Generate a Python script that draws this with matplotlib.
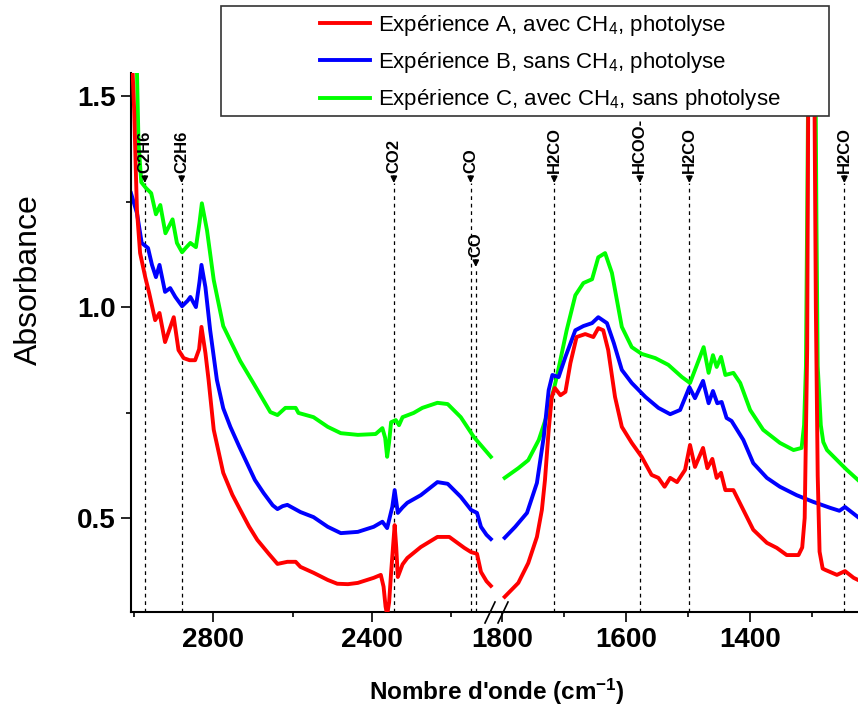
import matplotlib
matplotlib.use('Agg')
import matplotlib.pyplot as plt
from matplotlib.lines import Line2D
from matplotlib.patches import Rectangle
from matplotlib.ticker import FixedLocator, MultipleLocator

plt.rcParams['font.family'] = ['Liberation Sans', 'DejaVu Sans']
plt.rcParams['mathtext.default'] = 'regular'

labels = ['Expérience A, avec CH$_4$, photolyse',
          'Expérience B, sans CH$_4$, photolyse',
          'Expérience C, avec CH$_4$, sans photolyse']
colors = ['#ff0000', '#0000ff', '#00ff00']

# --- high wavenumber part (3010 - 2090 cm-1)
wn_A_hi = [3008, 3004, 3000, 2996, 2993, 2985, 2972, 2962, 2947, 2936, 2922, 2900, 2888,
           2875, 2860, 2846, 2836, 2830, 2820, 2812, 2799, 2775, 2752, 2732, 2710, 2689,
           2660, 2638, 2613, 2592, 2580, 2547, 2511, 2487, 2460, 2435, 2395, 2377, 2370,
           2365, 2361, 2356, 2351, 2342, 2338, 2334, 2322, 2310, 2276, 2234, 2204, 2166,
           2149, 2134, 2124, 2110, 2099]
abs_A_hi = [1.70, 1.56, 1.467, 1.33, 1.23, 1.128, 1.071, 1.033, 0.969, 0.986, 0.917, 0.976, 0.898,
            0.879, 0.874, 0.874, 0.90, 0.953, 0.891, 0.827, 0.709, 0.607, 0.555, 0.519, 0.48, 0.448,
            0.415, 0.391, 0.396, 0.396, 0.384, 0.37, 0.353, 0.344, 0.343, 0.346, 0.358, 0.365, 0.337,
            0.29, 0.27, 0.30, 0.37, 0.483, 0.43, 0.36, 0.39, 0.405, 0.431, 0.455, 0.455, 0.429,
            0.419, 0.415, 0.372, 0.35, 0.339]

wn_B_hi = [3008, 2993, 2981, 2965, 2955, 2945, 2936, 2922, 2909, 2896, 2879, 2865, 2858,
           2844, 2835, 2830, 2820, 2808, 2791, 2775, 2757, 2735, 2715, 2695, 2673, 2650,
           2638, 2625, 2613, 2580, 2547, 2511, 2478, 2435, 2395, 2373, 2361, 2348, 2342,
           2334, 2322, 2310, 2276, 2234, 2208, 2175, 2149, 2134, 2124, 2110, 2099]
abs_B_hi = [1.27, 1.223, 1.152, 1.14, 1.10, 1.071, 1.10, 1.036, 1.045, 1.024, 1.002, 1.015, 1.024,
            1.0, 1.06, 1.10, 1.047, 0.945, 0.827, 0.76, 0.716, 0.67, 0.63, 0.59, 0.559, 0.53,
            0.521, 0.528, 0.531, 0.514, 0.502, 0.479, 0.464, 0.467, 0.479, 0.491, 0.476, 0.526, 0.566,
            0.512, 0.525, 0.536, 0.554, 0.585, 0.581, 0.55, 0.519, 0.512, 0.479, 0.46, 0.45]

wn_C_hi = [3008, 2993, 2989, 2982, 2970, 2957, 2945, 2934, 2921, 2903, 2892, 2879, 2870,
           2858, 2844, 2835, 2829, 2816, 2799, 2775, 2732, 2699, 2656, 2638, 2618, 2592,
           2585, 2547, 2511, 2478, 2435, 2390, 2373, 2366, 2361, 2356, 2351, 2339, 2331,
           2322, 2294, 2272, 2234, 2208, 2175, 2142, 2099]
abs_C_hi = [1.75, 1.56, 1.389, 1.296, 1.282, 1.27, 1.22, 1.242, 1.175, 1.208, 1.152, 1.13, 1.14,
            1.152, 1.142, 1.20, 1.246, 1.182, 1.064, 0.955, 0.872, 0.82, 0.751, 0.744, 0.761, 0.761,
            0.749, 0.739, 0.716, 0.701, 0.697, 0.699, 0.713, 0.69, 0.645, 0.68, 0.727, 0.732, 0.72,
            0.739, 0.749, 0.761, 0.773, 0.77, 0.739, 0.692, 0.645]

# --- low wavenumber part (1800 - 1225 cm-1)
wn_A_lo = [1796, 1774, 1758, 1744, 1736, 1731, 1725, 1720, 1715, 1706, 1698, 1690, 1680,
           1666, 1653, 1645, 1637, 1629, 1618, 1607, 1591, 1575, 1559, 1548, 1538, 1529,
           1518, 1505, 1497, 1489, 1476, 1469, 1461, 1454, 1447, 1440, 1427, 1411, 1395,
           1373, 1357, 1341, 1322, 1316, 1312, 1308, 1306, 1302, 1298, 1294, 1291, 1288,
           1283, 1279, 1260, 1247, 1233, 1226]
abs_A_lo = [0.313, 0.346, 0.393, 0.455, 0.519, 0.59, 0.709, 0.787, 0.808, 0.791, 0.799, 0.867, 0.929,
            0.936, 0.929, 0.95, 0.945, 0.898, 0.787, 0.716, 0.678, 0.645, 0.602, 0.595, 0.574, 0.595,
            0.585, 0.614, 0.673, 0.621, 0.666, 0.618, 0.64, 0.595, 0.607, 0.566, 0.566, 0.519, 0.472,
            0.441, 0.429, 0.412, 0.412, 0.43, 0.50, 0.90, 1.60, 2.00, 1.90, 1.00, 0.60, 0.42,
            0.38, 0.377, 0.365, 0.374, 0.358, 0.353]

wn_B_lo = [1796, 1779, 1760, 1744, 1733, 1725, 1719, 1709, 1698, 1682, 1669, 1655, 1645,
           1631, 1620, 1607, 1591, 1569, 1548, 1529, 1513, 1498, 1489, 1476, 1467, 1460,
           1453, 1446, 1438, 1430, 1411, 1395, 1373, 1352, 1325, 1298, 1271, 1256, 1247, 1226]
abs_B_lo = [0.453, 0.479, 0.512, 0.583, 0.692, 0.803, 0.839, 0.834, 0.882, 0.945, 0.955, 0.962, 0.976,
            0.962, 0.915, 0.851, 0.82, 0.787, 0.761, 0.746, 0.756, 0.81, 0.784, 0.825, 0.772, 0.801,
            0.772, 0.775, 0.737, 0.73, 0.685, 0.63, 0.595, 0.574, 0.554, 0.538, 0.524, 0.517, 0.526, 0.502]

wn_C_lo = [1796, 1774, 1758, 1741, 1725, 1712, 1696, 1682, 1669, 1655, 1645, 1634, 1623,
           1607, 1591, 1575, 1553, 1532, 1510, 1497, 1475, 1467, 1460, 1454, 1447, 1440,
           1427, 1416, 1400, 1379, 1352, 1330, 1317, 1313, 1310, 1307, 1304, 1297, 1293,
           1291, 1286, 1282, 1276, 1255, 1244, 1226]
abs_C_lo = [0.595, 0.618, 0.637, 0.685, 0.756, 0.834, 0.945, 1.028, 1.057, 1.066, 1.118, 1.128, 1.081,
            0.953, 0.905, 0.889, 0.879, 0.863, 0.834, 0.82, 0.905, 0.844, 0.886, 0.858, 0.882, 0.839,
            0.844, 0.82, 0.756, 0.709, 0.678, 0.661, 0.666, 0.72, 0.86, 1.40, 2.10, 2.10, 1.20,
            0.86, 0.72, 0.68, 0.661, 0.63, 0.614, 0.59]

# band assignments (position, label, arrow tip height)
band_wn = [2973, 2880, 2344, 2150, 2137, 1716, 1578, 1498, 1248]
band_txt = ['C2H6', 'C2H6', 'CO2', 'CO', 'CO', 'H2CO', 'HCOO-', 'H2CO', 'H2CO']
band_tip = [1.294, 1.294, 1.294, 1.294, 1.095, 1.294, 1.294, 1.294, 1.294]

ylim = (0.277, 1.555)

fig = plt.figure(figsize=(8.58, 7.13), dpi=100)
ax1 = fig.add_axes([131/858, 1-612/713, 365/858, 539/713])
ax2 = fig.add_axes([496/858, 1-612/713, 362/858, 539/713])

hi = [(wn_A_hi, abs_A_hi), (wn_B_hi, abs_B_hi), (wn_C_hi, abs_C_hi)]
lo = [(wn_A_lo, abs_A_lo), (wn_B_lo, abs_B_lo), (wn_C_lo, abs_C_lo)]
handles = []
for i in range(3):
    z = 3 - i * 0.5
    h, = ax1.plot(hi[i][0], hi[i][1], color=colors[i], lw=2.8, zorder=z)
    ax2.plot(lo[i][0], lo[i][1], color=colors[i], lw=2.8, zorder=z)
    handles.append(h)

ax1.set_xlim(3008, 2086)
ax2.set_xlim(1810, 1226)
for ax in (ax1, ax2):
    ax.set_ylim(*ylim)
    ax.spines['top'].set_visible(False)
    ax.spines['right'].set_visible(False)
    for s in ax.spines.values():
        s.set_linewidth(1.5)
    ax.tick_params(which='major', direction='out', length=7, width=1.2, labelsize=20, pad=4)
    ax.tick_params(which='minor', direction='out', length=3.8, width=1.2)

ax1.xaxis.set_major_locator(FixedLocator([2800, 2400]))
ax1.xaxis.set_minor_locator(FixedLocator([3000, 2600, 2200]))
ax2.xaxis.set_major_locator(FixedLocator([1800, 1600, 1400]))
ax2.xaxis.set_minor_locator(FixedLocator([1700, 1500, 1300]))
ax1.yaxis.set_major_locator(MultipleLocator(0.5))
ax1.yaxis.set_minor_locator(MultipleLocator(0.25))
ax1.yaxis.set_major_formatter(lambda v, p: f'{v:.1f}')
ax2.spines['left'].set_visible(False)
ax2.tick_params(axis='y', which='both', left=False, labelleft=False)
for ax in (ax1, ax2):
    plt.setp(ax.get_xticklabels() + ax.get_yticklabels(), fontweight='bold')

# band markers
for wn, txt, tip in zip(band_wn, band_txt, band_tip):
    ax = ax1 if wn > 2000 else ax2
    ax.vlines(wn, ylim[0], tip, colors='k', linestyles=(0, (3, 3)), lw=0.9, zorder=1)
    ax.annotate(txt, xy=(wn, tip), xytext=(0, 7), textcoords='offset points',
                rotation=90, ha='center', va='bottom', fontsize=12, fontweight='bold',
                arrowprops=dict(arrowstyle='-|>', color='k', lw=1.2,
                                shrinkA=0, shrinkB=0, mutation_scale=9))

# axis break marks
for x0 in (485, 498):
    fig.add_artist(Line2D([x0/858, (x0 + 10)/858], [1-623/713, 1-602/713],
                          color='k', lw=1.2))

ax1.set_ylabel('Absorbance', fontsize=23)
ax1.yaxis.set_label_coords(-0.238, 0.616)
fig.supxlabel("Nombre d'onde (cm$^{-1}$)", x=497/858, y=1-692/713,
              fontsize=17.5, fontweight='bold', va='center')

# legend box
fig.add_artist(Rectangle((221/858, 1-116/713), 608/858, 110/713,
                         transform=fig.transFigure, facecolor='white',
                         edgecolor='#333333', lw=1.2, zorder=1))
fig.legend(handles, labels, loc='upper left', bbox_to_anchor=(320/858, 1-13/713),
           frameon=False, fontsize=16, handlelength=2.25, handletextpad=0.36,
           labelspacing=0.55, borderpad=0, borderaxespad=0)

fig.savefig('out.png', dpi=100)
